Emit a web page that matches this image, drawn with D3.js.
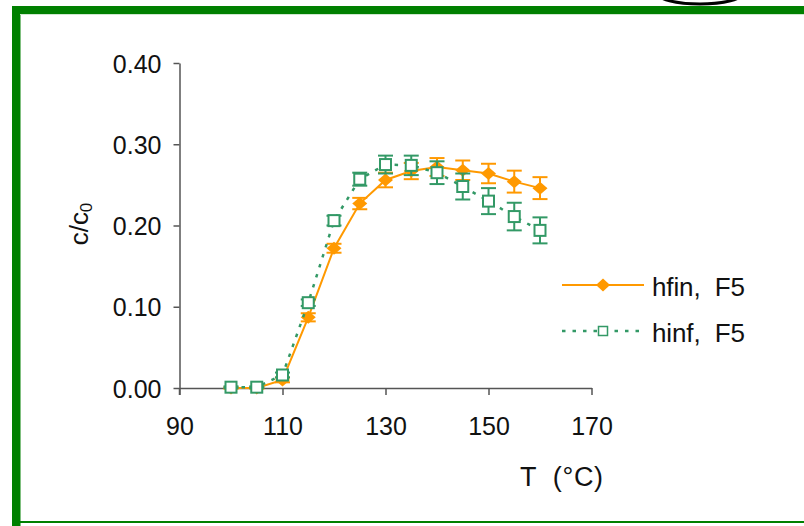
<!DOCTYPE html>
<html><head><meta charset="utf-8">
<script src="https://cdn.jsdelivr.net/npm/d3@7/dist/d3.min.js"></script>
<style>
html,body{margin:0;padding:0;background:#fff;}
svg{display:block;font-family:"Liberation Sans",Arial,sans-serif;}
</style></head>
<body>
<svg id="chart" width="804" height="526"></svg>
<script>
// ---- data ----
const temps = [100,105,110,115,120,125,130,135,140,145,150,155,160];
const hfin = [0.000,0.000,0.010,0.087,0.172,0.227,0.256,0.267,0.272,0.268,0.264,0.254,0.246];
const hfinErr = [0.001,0.001,0.003,0.005,0.0055,0.007,0.009,0.010,0.011,0.012,0.012,0.0135,0.0135];
const hinf = [0.001,0.001,0.016,0.105,0.206,0.257,0.275,0.274,0.265,0.248,0.230,0.211,0.194];
const hinfErr = [0.001,0.001,0.003,0.004,0.006,0.008,0.011,0.012,0.014,0.016,0.016,0.017,0.016];
const xTicks = [90,110,130,150,170];
const yTicks = [0.00,0.10,0.20,0.30,0.40];
const seriesNames = ["hfin, F5","hinf, F5"];

const ORANGE = "#FF9900", GREEN = "#339966", FRAME = "#008000";
const svg = d3.select("#chart");

// frame
svg.append("rect").attr("x",12).attr("y",6).attr("width",804).attr("height",8).attr("fill",FRAME);
svg.append("rect").attr("x",12).attr("y",6).attr("width",8.5).attr("height",526).attr("fill",FRAME);
svg.append("rect").attr("x",12).attr("y",521).attr("width",804).attr("height",2).attr("fill",FRAME);
svg.append("line").attr("x1",20).attr("x2",804).attr("y1",14.5).attr("y2",14.5).attr("stroke","#cfe8cf").attr("stroke-width",1);
// black arc at top
svg.append("ellipse").attr("cx",700).attr("cy",-7).attr("rx",43).attr("ry",11)
  .attr("fill","#fff").attr("stroke","#000").attr("stroke-width",3);

const x = d3.scaleLinear().domain([90,170]).range([179.5,591.5]);
const y = d3.scaleLinear().domain([0,0.4]).range([388,63]);

// axes
const axColor = "#555";
const gx = svg.append("g").attr("transform","translate(0,388)")
  .call(d3.axisBottom(x).tickValues(xTicks).tickSize(7).tickSizeOuter(0).tickPadding(22).tickFormat(d3.format("d")));
const gy = svg.append("g").attr("transform","translate(179.5,0)")
  .call(d3.axisLeft(y).tickValues(yTicks).tickSize(6).tickSizeOuter(0).tickPadding(12).tickFormat(d3.format(".2f")));
[gx,gy].forEach(g=>{
  g.select(".domain").attr("stroke",axColor).attr("stroke-width",1.5);
  g.selectAll(".tick line").attr("stroke",axColor).attr("stroke-width",1.5);
  g.selectAll(".tick text").attr("fill","#111").style("font-size","25px").style("font-family","'Liberation Sans',Arial,sans-serif");
});
gx.selectAll(".tick text").attr("dy","0.71em");
gy.selectAll(".tick text").attr("dy","0.36em");
// y axis extends slightly below x axis
svg.append("line").attr("x1",179.5).attr("x2",179.5).attr("y1",388).attr("y2",395).attr("stroke",axColor).attr("stroke-width",1.5);

// axis titles
const yt = svg.append("text").attr("transform","translate(88,224) rotate(-90)")
  .attr("text-anchor","middle").attr("fill","#111").style("font-size","26px");
yt.append("tspan").text("c/c");
yt.append("tspan").attr("font-size","17px").attr("dy","4").text("0");
const xt = svg.append("text").attr("x",520).attr("y",486).attr("fill","#111").style("font-size","27px")
  .attr("xml:space","preserve").attr("textLength",83).attr("lengthAdjust","spacing").text("T  (\u00B0C)");

const pts = (vals, errs) => temps.map((t,i)=>({t, v: vals[i], e: errs[i]}));
const dFin = pts(hfin, hfinErr), dInf = pts(hinf, hinfErr);
const line = d3.line().x(d=>x(d.t)).y(d=>y(d.v));

function errorBars(data, color){
  const g = svg.append("g").attr("stroke",color).attr("stroke-width",2);
  data.forEach(d=>{
    g.append("line").attr("x1",x(d.t)).attr("x2",x(d.t)).attr("y1",y(d.v+d.e)).attr("y2",y(d.v-d.e));
    [d.v+d.e,d.v-d.e].forEach(v=>g.append("line").attr("x1",x(d.t)-7.5).attr("x2",x(d.t)+7.5).attr("y1",y(v)).attr("y2",y(v)));
  });
}
const diamond = (cx,cy,w,h)=>`M${cx},${cy-h/2}L${cx+w/2},${cy}L${cx},${cy+h/2}L${cx-w/2},${cy}Z`;

// orange series
errorBars(dFin, ORANGE);
svg.append("path").datum(dFin).attr("d",line).attr("fill","none").attr("stroke",ORANGE).attr("stroke-width",2);
svg.append("g").selectAll("path").data(dFin).join("path")
  .attr("d",d=>diamond(x(d.t),y(d.v),15,13)).attr("fill",ORANGE);

// green series
errorBars(dInf, GREEN);
svg.append("path").datum(dInf).attr("d",line).attr("fill","none").attr("stroke",GREEN)
  .attr("stroke-width",2.5).attr("stroke-dasharray","3.5,7");
svg.append("g").selectAll("rect").data(dInf).join("rect")
  .attr("x",d=>x(d.t)-5.5).attr("y",d=>y(d.v)-5.5).attr("width",11).attr("height",11)
  .attr("fill","#fff").attr("stroke",GREEN).attr("stroke-width",2);

// legend
const lg = svg.append("g");
lg.append("line").attr("x1",562).attr("x2",644).attr("y1",285).attr("y2",285).attr("stroke",ORANGE).attr("stroke-width",2);
lg.append("path").attr("d",diamond(603,285,14,13)).attr("fill",ORANGE);
lg.append("text").attr("x",652).attr("y",296).attr("fill","#111").style("font-size","26px").attr("xml:space","preserve")
  .attr("textLength",93).attr("lengthAdjust","spacing").text(seriesNames[0].replace(", ",",  "));
lg.append("line").attr("x1",562).attr("x2",642).attr("y1",331).attr("y2",331).attr("stroke",GREEN).attr("stroke-width",2.5).attr("stroke-dasharray","3.5,7");
lg.append("rect").attr("x",598.5).attr("y",326.5).attr("width",9).attr("height",9).attr("fill","#fff").attr("stroke",GREEN).attr("stroke-width",1.5);
lg.append("text").attr("x",652).attr("y",342).attr("fill","#111").style("font-size","26px").attr("xml:space","preserve")
  .attr("textLength",93).attr("lengthAdjust","spacing").text(seriesNames[1].replace(", ",",  "));
</script>
</body></html>
